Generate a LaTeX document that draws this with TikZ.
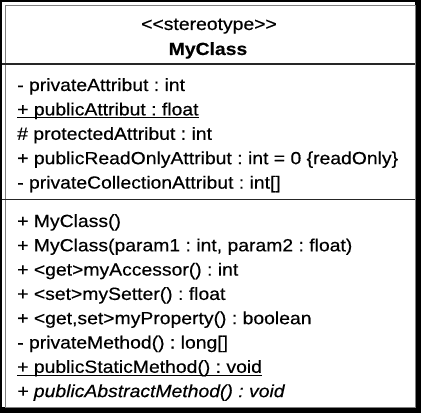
\documentclass[tikz,border=0pt]{standalone}
\usepackage{fontspec}
\setmainfont{Liberation Sans}[FakeStretch=1.1, FakeBold=0.4]
\frenchspacing
\newcommand{\umlstatic}[1]{\setbox0\hbox{#1}\rlap{\rule[-2.6pt]{\wd0}{0.9pt}}\box0}

\begin{document}
\begin{tikzpicture}[x=1pt, y=-1pt,
  member/.style={anchor=base west, inner sep=0pt, font=\fontsize{17.6}{22}\selectfont},
  header/.style={anchor=base, inner sep=0pt, font=\fontsize{17.6}{22}\selectfont}]
  \useasboundingbox (0,0) rectangle (422,414);

  % frame with shadow
  \fill[black] (0,0) rectangle (421,413);
  \fill[white] (2,2) rectangle (415,407);
  \draw[gray, line width=0.8pt] (5,5) rectangle (415,407);

  % compartments
  \draw[black!85, line width=1.8pt] (2,64.3) -- (415,64.3);
  \draw[black!85, line width=1.8pt] (2,199.5) -- (415,199.5);

  % name compartment
  \node[header] (stereo) at (209,30) {{<}{<}stereotype{>}{>}};
  \node[header, font=\fontsize{17.6}{22}\selectfont\bfseries] (name) at (208,55) {MyClass};

  % attributes
  \node[member] (attrA) at (17,91) {- privateAttribut : int};
  \node[member] (attrB) at (17,115.4) {\umlstatic{+ publicAttribut : float}};
  \node[member] (attrC) at (17,139.8) {\# protectedAttribut : int};
  \node[member] (attrD) at (17,164.2) {+ publicReadOnlyAttribut : int = 0 \{readOnly\}};
  \node[member] (attrE) at (17,188.6) {- privateCollectionAttribut : int[]};

  % operations
  \node[member] (opA) at (17,227) {+ MyClass()};
  \node[member] (opB) at (17,251.3) {+ MyClass(param1 : int, param2 : float)};
  \node[member] (opC) at (17,275.6) {+ <get>myAccessor() : int};
  \node[member] (opD) at (17,299.9) {+ <set>mySetter() : float};
  \node[member] (opE) at (17,324.2) {+ <get,set>myProperty() : boolean};
  \node[member] (opF) at (17,348.5) {- privateMethod() : long[]};
  \node[member] (opG) at (17,372.8) {\umlstatic{+ publicStaticMethod() : void}};
  \node[member, font=\fontsize{17.6}{22}\selectfont\itshape] (opH) at (17,397.1) {+ publicAbstractMethod() : void};
\end{tikzpicture}
\end{document}
